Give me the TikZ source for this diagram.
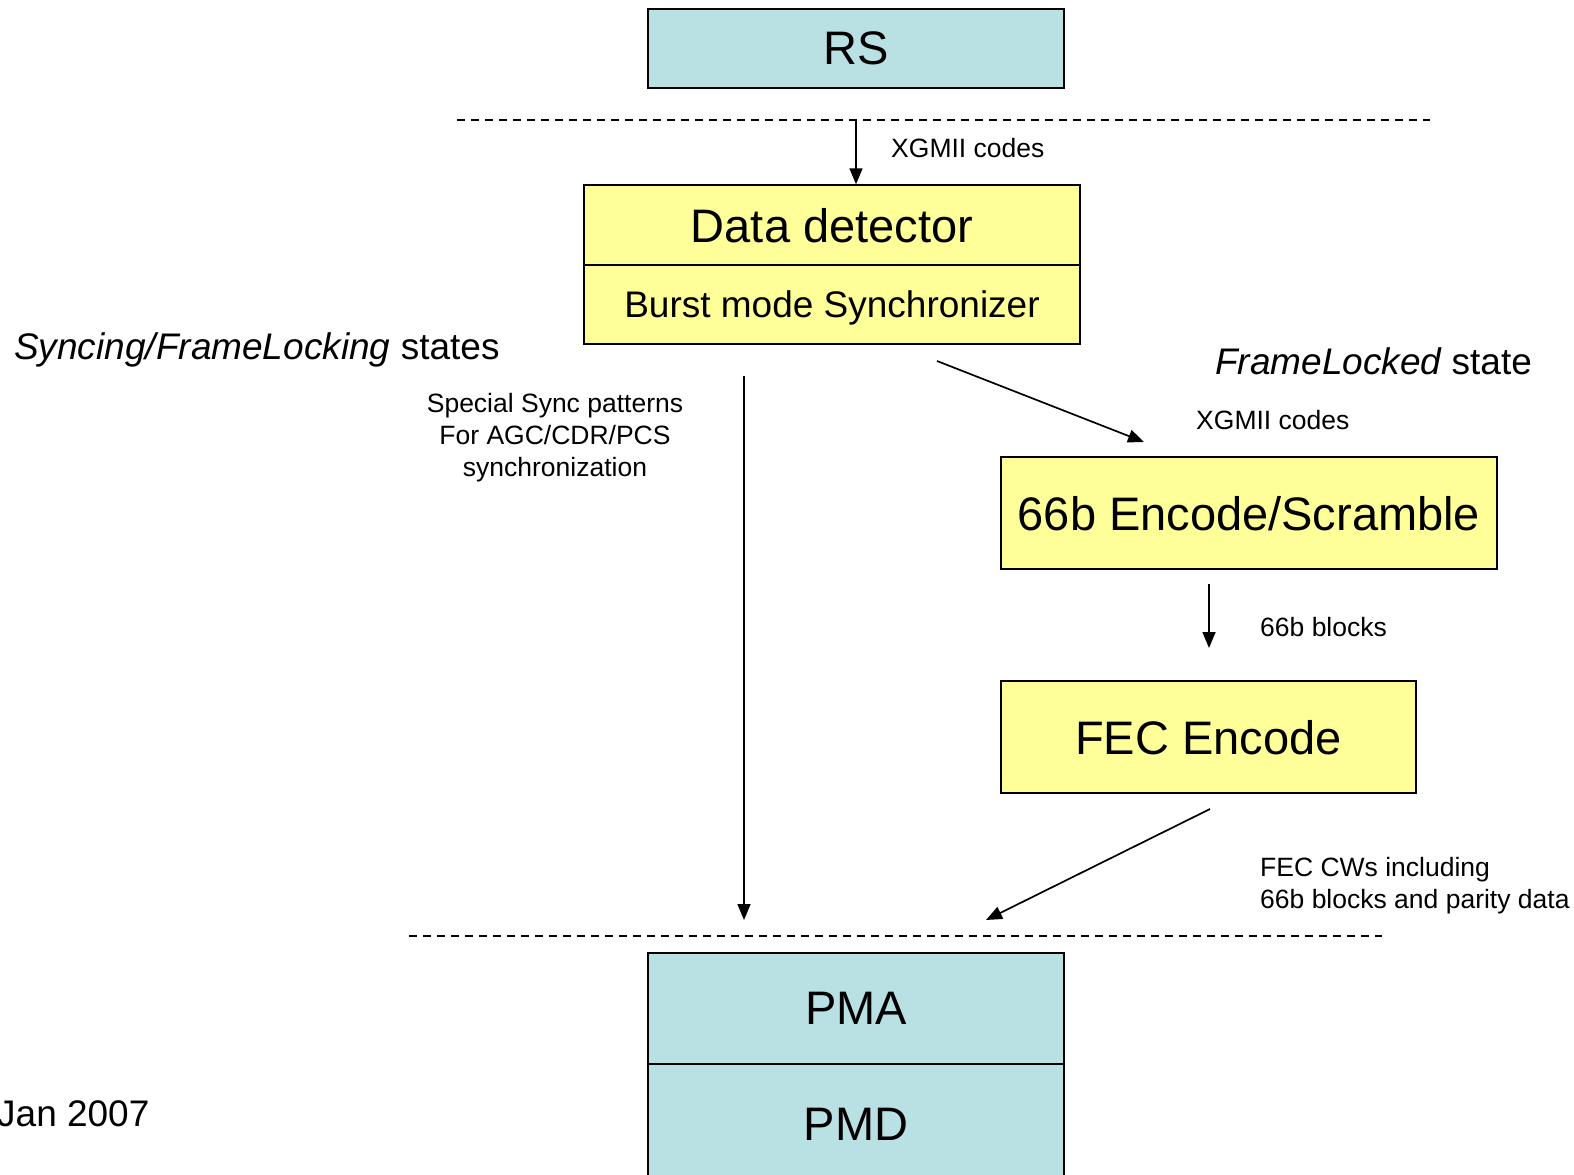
\documentclass[tikz,border=0pt]{standalone}
\usepackage{fontspec}
\setmainfont{Liberation Sans}
\usetikzlibrary{arrows.meta}
\definecolor{boxcyan}{RGB}{185,224,227}
\definecolor{boxyellow}{RGB}{255,255,153}
\tikzset{
  big/.style={font=\fontsize{47}{56}\selectfont},
  mid/.style={font=\fontsize{37}{44}\selectfont},
  small/.style={font=\fontsize{26.5}{32}\selectfont},
  cyanbox/.style={draw=black,line width=1.5pt,fill=boxcyan,inner sep=0pt,anchor=center,text depth=0pt},
  yellowbox/.style={draw=black,line width=1.5pt,fill=boxyellow,inner sep=0pt,anchor=center,text depth=0pt},
  flow/.style={line width=1.7pt,-{Triangle[length=16pt,width=13pt]}},
  sep/.style={line width=1.3pt,dash pattern=on 8pt off 6pt},
  lbl/.style={inner sep=0pt}
}
\begin{document}
\begin{tikzpicture}[x=1pt,y=-1pt]
\useasboundingbox[fill=white] (0,0) rectangle (1574,1175);
% boxes
\node[cyanbox,big,minimum width=416pt,minimum height=79pt] (rs) at (856,48.5) {RS};
\node[yellowbox,big,minimum width=496pt,minimum height=80pt] (dd) at (832,225) {Data detector};
\node[yellowbox,mid,minimum width=496pt,minimum height=79pt] (bms) at (832,304.5) {Burst mode Synchronizer};
\node[yellowbox,big,minimum width=496pt,minimum height=112pt] (enc) at (1249,513) {66b Encode/Scramble};
\node[yellowbox,big,minimum width=415pt,minimum height=112pt] (fec) at (1208.5,737) {FEC Encode};
\node[cyanbox,big,minimum width=416pt,minimum height=111pt] (pma) at (856,1008.5) {PMA};
\node[cyanbox,big,minimum width=416pt,minimum height=120pt] (pmd) at (856,1124) {PMD};
% separators
\coordinate (s1a) at (457,120);
\coordinate (s1b) at (1430,120);
\coordinate (s2a) at (409,936);
\coordinate (s2b) at (1382,936);
\draw[sep] (s1a) -- (s1b);
\draw[sep] (s2a) -- (s2b);
% connectors
\coordinate (xin) at (856,120);
\draw[flow] (xin) -- (xin |- dd.north);
\coordinate (dg1) at (937,361);
\coordinate (dg2) at (1144,442);
\draw[flow] (dg1) -- (dg2);
\coordinate (v1) at (744,376);
\coordinate (v2) at (744,920);
\draw[flow] (v1) -- (v2);
\coordinate (b1) at (1209,584);
\coordinate (b2) at (1209,648);
\draw[flow] (b1) -- (b2);
\coordinate (f1) at (1210,809);
\coordinate (f2) at (986,920);
\draw[flow] (f1) -- (f2);
% labels
\node[lbl,small,anchor=west] (lx1) at (891,148) {XGMII codes};
\node[lbl,small,anchor=west] (lx2) at (1196,420) {XGMII codes};
\node[lbl,small,anchor=west] (l66) at (1260,627) {66b blocks};
\node[lbl,small,align=center] (lsp) at (555,438) {Special Sync patterns\\For AGC/CDR/PCS\\synchronization};
\node[lbl,small,align=left,anchor=west] (lcw) at (1260,886) {FEC CWs including\\66b blocks and parity data};
\node[lbl,mid,anchor=west] (lsy) at (14,350) {\itshape Syncing/FrameLocking\upshape{} states};
\node[lbl,mid,anchor=west] (lfl) at (1215,361) {\itshape FrameLocked\upshape{} state};
\node[lbl,mid,anchor=west] (ljan) at (-3,1114) {Jan 2007};
\end{tikzpicture}
\end{document}
